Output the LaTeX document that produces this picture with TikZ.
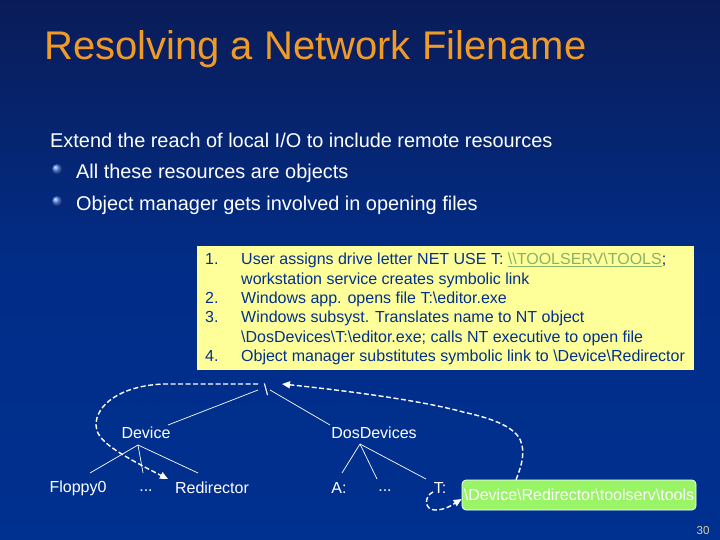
\documentclass[tikz,border=0pt]{standalone}
\usepackage{fontspec}
\setmainfont{Liberation Sans}
\usepackage{tikz}
\usetikzlibrary{arrows.meta}

\definecolor{navy}{HTML}{003090}
\definecolor{topnavy}{HTML}{0A1C58}
\definecolor{titleorange}{HTML}{F09A28}
\definecolor{noteyellow}{HTML}{FFFF99}
\definecolor{linkgreen}{HTML}{86B466}
\definecolor{pathgreen}{HTML}{99F566}
\definecolor{pagetan}{HTML}{D8D0A8}
\definecolor{bulletblue}{HTML}{5080F0}

\tikzset{
  body/.style={white, anchor=west, inner sep=0pt, font=\fontsize{19.9}{24}\selectfont},
  bullet/.style={circle, inner sep=0pt, minimum size=10pt, ball color=bulletblue, shading=ball},
  num/.style={navy, anchor=west, inner sep=0pt, font=\fontsize{16}{19.4}\selectfont},
  item/.style={navy, anchor=north west, inner sep=0pt, align=left, font=\fontsize{16}{19.4}\selectfont},
  tree/.style={white, inner sep=0pt, font=\fontsize{16}{18}\selectfont},
  edge/.style={white, line width=0.7pt},
  link/.style={white, line width=1.4pt, dash pattern=on 5pt off 2.5pt, -{Triangle[length=8pt,width=7pt]}}
}

\begin{document}
\begin{tikzpicture}[x=1pt, y=-1pt]
    \shade[top color=topnavy, bottom color=navy, middle color=navy!85!topnavy] (0,0) rectangle (720,540);

    \draw
    (44,49) node[anchor=west, inner sep=0pt, titleorange, font=\fontsize{40}{44}\selectfont](Title){Resolving a Network Filename}
    (50,140) node[body](Reach){Extend the reach of local I/O to include remote resources}
    (76,173) node[body](Objects){All these resources are objects}
    (76,205) node[body](Manager){Object manager gets involved in opening files}
    (57,169) node[bullet](BulletA){}
    (57,201) node[bullet](BulletB){};

    \fill[noteyellow] (197,246) rectangle (694,370);
    \draw
    (205,259) node[num](NumA){1.}
    (205,298) node[num](NumB){2.}
    (205,317) node[num](NumC){3.}
    (205,356) node[num](NumD){4.}
    (241,253) node[item](ItemA){User assigns drive letter NET USE T: \textcolor{linkgreen}{\underline{\textbackslash\textbackslash TOOLSERV\textbackslash TOOLS}};\\workstation service creates symbolic link}
    (241,292) node[item](ItemB){Windows app. opens file T:\textbackslash editor.exe}
    (241,311) node[item](ItemC){Windows subsyst. Translates name to NT object\\\textbackslash DosDevices\textbackslash T:\textbackslash editor.exe; calls NT executive to open file}
    (241,350) node[item](ItemD){Object manager substitutes symbolic link to \textbackslash Device\textbackslash Redirector};

    \draw
    (266,389.5) node[tree](Root){\textbackslash}
    (146,433) node[tree](Device){Device}
    (374,433) node[tree](DosDevices){DosDevices}
    (78,488) node[tree](Floppy){Floppy0}
    (146,490.5) node[tree](DotsA){...}
    (212,488) node[tree](Redirector){Redirector}
    (339,488) node[tree](Drive){A:}
    (385,490.5) node[tree](DotsB){...}
    (440,488) node[tree](Letter){T:}
    (579,495) node[rectangle, rounded corners=4pt, draw=white, line width=0.7pt, fill=pathgreen, text=white, minimum width=234pt, minimum height=30pt, inner sep=0pt, font=\fontsize{16}{18}\selectfont](Target){\textbackslash Device\textbackslash Redirector\textbackslash toolserv\textbackslash tools}
    (703,531) node[pagetan, inner sep=0pt, font=\fontsize{11.5}{14}\selectfont](Page){30};

    \draw[edge] ([shift={(-8,0.5)}]Root.center) -- ([shift={(22,-8)}]Device.center);
    \draw[edge] ([shift={(4,0.5)}]Root.center) -- ([shift={(-44,-8)}]DosDevices.center);
    \draw[edge] ([shift={(-8,12)}]Device.center) -- ([shift={(12,-15)}]Floppy.center);
    \draw[edge] ([shift={(-8,12)}]Device.center) -- ([shift={(-3,-17.5)}]DotsA.center);
    \draw[edge] ([shift={(-8,12)}]Device.center) -- ([shift={(-14,-15)}]Redirector.center);
    \draw[edge] ([shift={(-14,11)}]DosDevices.center) -- ([shift={(3,-15)}]Drive.center);
    \draw[edge] ([shift={(-14,11)}]DosDevices.center) -- ([shift={(-8,-11.5)}]DotsB.center);
    \draw[edge] ([shift={(-14,11)}]DosDevices.center) -- ([shift={(-14,-9)}]Letter.center);

    \draw[link] ([shift={(-8,-5.5)}]Root.center) -- (163,384) .. controls (120,386) and (96,405) .. (96,425) .. controls (96,440) and (115,452) .. ([shift={(-44,-9)}]Redirector.center);
    \draw[link] (Target.north -| 516,0) .. controls (522,465) and (524,455) .. (522,445) .. controls (519,430) and (500,420) .. (463,412) .. controls (420,400) and (340,390) .. ([shift={(16,-5.5)}]Root.center);
    \draw[link] ([shift={(-7,4)}]Letter.center) .. controls (424,496) and (424,510) .. (435,510) .. controls (445,510) and (452,505) .. ([yshift=-4pt]Target.west);

\end{tikzpicture}
\end{document}
